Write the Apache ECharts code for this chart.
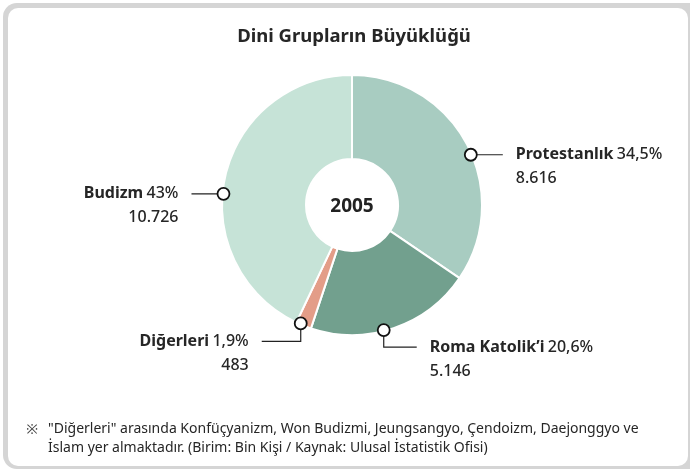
<!DOCTYPE html>
<html>
<head>
<meta charset="utf-8">
<script src="https://cdn.jsdelivr.net/npm/echarts@6/dist/echarts.min.js"></script>
<style>
  html, body { margin: 0; padding: 0; background: #fff; }
  #chart { width: 690px; height: 470px; }
</style>
</head>
<body>
<div id="chart"></div>
<script>
// veriler (Birim: Bin Kişi)
var groupNames = ['Protestanlık', 'Roma Katolik\u2019i', 'Diğerleri', 'Budizm'];
var groupValues = [8616, 5146, 483, 10726];
var groupPercents = ['34,5', '20,6', '1,9', '43'];
var groupColors = ['#a8ccc1', '#72a08e', '#e39d88', '#c6e3d7'];
var yearLabel = '2005';
var titleText = 'Dini Grupların Büyüklüğü';
var noteLines = [
  '"Diğerleri" arasında Konfüçyanizm, Won Budizmi, Jeungsangyo, Çendoizm, Daejonggyo ve',
  'İslam yer almaktadır. (Birim: Bin Kişi / Kaynak: Ulusal İstatistik Ofisi)'
];

// etiket çizgileri: dilim üzerindeki nokta, yön, aşağı kırılma, yatay uzunluk
var markAt = [0.54, 0.56, 0.72, 0.45];
var legSide = [1, 1, -1, -1];
var legDrop = [0, 17, 18, 0];
var legLen = [32, 33, 39, 32];

var FONT = '"Noto Sans", sans-serif';
var TXT = '#262626';

function fmt(n) {
  return String(n).replace(/\B(?=(\d{3})+(?!\d))/g, '.');
}

var chart = echarts.init(document.getElementById('chart'));

var option = {
  animation: false,
  backgroundColor: '#fff',
  series: [{
    type: 'pie',
    center: [352, 205],
    radius: [46, 130],
    startAngle: 90,
    clockwise: true,
    silent: true,
    label: { show: false },
    labelLine: { show: false },
    itemStyle: { borderColor: '#fff', borderWidth: 2 },
    data: groupNames.map(function (n, i) {
      return { name: n, value: groupValues[i], itemStyle: { color: groupColors[i] } };
    })
  }]
};
chart.setOption(option);

// çerçeve + başlık + notlar + dilim etiketleri
function buildGraphics() {
  var data = chart.getModel().getSeriesByIndex(0).getData();
  var els = [
    { type: 'rect', z: -10, shape: { x: 3, y: 3, width: 700, height: 466, r: 14 }, style: { fill: '#d5d5d5' } },
    { type: 'rect', z: -9, shape: { x: 8, y: 8, width: 680, height: 458, r: 10 }, style: { fill: '#fff' } },
    { type: 'text', x: 354, y: 37, style: {
      text: titleText, align: 'center', verticalAlign: 'middle',
      fontFamily: FONT, fontSize: 18.5, fontWeight: 'bold', fill: TXT
    } },
    { type: 'text', x: 352, y: 207, z: 10, style: {
      text: yearLabel, align: 'center', verticalAlign: 'middle',
      fontFamily: FONT, fontSize: 19, fontWeight: 'bold', fill: '#222'
    } },
    { type: 'text', x: 32, y: 430, style: {
      text: '※', align: 'center', verticalAlign: 'middle', fontFamily: FONT, fontSize: 14, fill: '#444'
    } },
    { type: 'text', x: 48, y: 420, style: {
      text: noteLines.join('\n'), align: 'left', verticalAlign: 'top', lineHeight: 19,
      fontFamily: FONT, fontSize: 14, fill: TXT
    } }
  ];

  for (var i = 0; i < groupNames.length; i++) {
    var lay = data.getItemLayout(i);
    var a = lay.startAngle + (lay.endAngle - lay.startAngle) * markAt[i];
    var mx = lay.cx + (lay.r - 1) * Math.cos(a);
    var my = lay.cy + (lay.r - 1) * Math.sin(a);
    var side = legSide[i];
    var pts;
    if (legDrop[i] > 0) {
      var ly = my + legDrop[i];
      pts = [[mx, my], [mx, ly], [mx + side * legLen[i], ly]];
    } else {
      pts = [[mx, my], [mx + side * legLen[i], my]];
    }
    var end = pts[pts.length - 1];
    els.push({
      type: 'polyline', z: 5, shape: { points: pts },
      style: { stroke: '#222', lineWidth: 1.2, fill: null }
    });
    els.push({
      type: 'circle', z: 6, shape: { cx: mx, cy: my, r: 6 },
      style: { fill: '#fff', stroke: '#111', lineWidth: 1.8 }
    });
    els.push({
      type: 'text', z: 6, x: end[0] + side * 13, y: end[1] - 12,
      style: {
        text: '{n|' + groupNames[i] + '} {p|' + groupPercents[i] + '%}\n{v|' + fmt(groupValues[i]) + '}',
        align: side > 0 ? 'left' : 'right',
        verticalAlign: 'top',
        rich: {
          n: { fontFamily: FONT, fontSize: 16, fontWeight: 'bold', fill: TXT, lineHeight: 24 },
          p: { fontFamily: FONT, fontSize: 16, fontWeight: 500, fill: TXT, lineHeight: 24 },
          v: { fontFamily: FONT, fontSize: 16, fontWeight: 500, fill: TXT, lineHeight: 24 }
        }
      }
    });
  }
  chart.setOption({ graphic: { elements: els } });
}
buildGraphics();
</script>
</body>
</html>
